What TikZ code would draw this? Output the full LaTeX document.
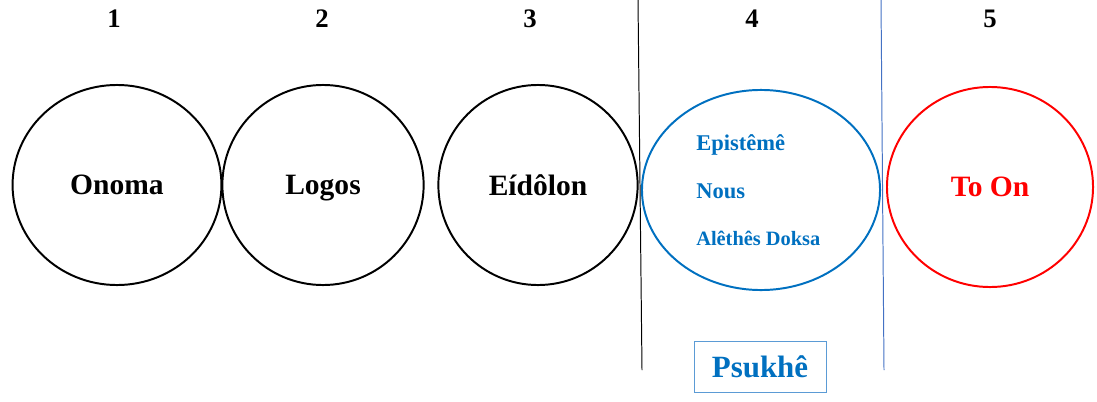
\documentclass[tikz,border=0pt]{standalone}
\usepackage{fontspec}
\setmainfont{Liberation Serif}
\usetikzlibrary{shapes.geometric}
\definecolor{psblue}{HTML}{0070C0}
\definecolor{lineblue}{HTML}{4472C4}
\definecolor{boxblue}{HTML}{5B9BD5}
\tikzset{ring/.style={ellipse,draw,line width=1.4pt,inner sep=0pt,
    text depth=0pt,font=\fontsize{21}{25}\selectfont\bfseries}}
\tikzset{num/.style={font=\fontsize{19}{22}\selectfont\bfseries}}
\tikzset{idea/.style={anchor=west,inner sep=0pt,text=psblue}}

\begin{document}
\begin{tikzpicture}[x=0.025cm,y=-0.025cm]
                \useasboundingbox (0,0) rectangle (1097,401);

                % Numbers
                \node[num] (n1) at (114,19) {1};
                \node[num] (n2) at (322,19) {2};
                \node[num] (n3) at (530,19) {3};
                \node[num] (n4) at (752,19) {4};
                \node[num] (n5) at (990,19) {5};

                % Circles
                \node[ring,minimum width=5.22cm,minimum height=5cm] (onoma) at (117,185) {Onoma};
                \node[ring,minimum width=5.03cm,minimum height=5cm] (logos) at (323,185) {Logos};
                \node[ring,minimum width=4.98cm,minimum height=5cm] (eidolon) at (538,185) {Eídôlon};
                \node[ring,draw=psblue,minimum width=5.95cm,minimum height=5cm] (psukhe) at (761,190) {};
                \node[ring,draw=red,text=red,minimum width=5.15cm,minimum height=5cm] (toon) at (990,187) {To On};

                % Labels
                \node[idea,font=\fontsize{16}{19}\selectfont\bfseries] (episteme) at (696,145) {Epistêmê};
                \node[idea,font=\fontsize{16}{19}\selectfont\bfseries] (nous) at (696,191) {Nous};
                \node[idea,font=\fontsize{14.5}{17}\selectfont\bfseries] (doksa) at (696,238) {Alêthês Doksa};

                % Dividers
                \draw[line width=0.7pt] (638,0) -- (642,370);
                \draw[line width=0.7pt,color=lineblue] (881,0) -- (884,370);

                \node[draw=boxblue,line width=0.7pt,text=psblue,minimum width=3.3cm,minimum height=1.28cm,
                    font=\fontsize{22}{26}\selectfont\bfseries] (box) at (760,367) {Psukhê};
            \end{tikzpicture}
\end{document}
